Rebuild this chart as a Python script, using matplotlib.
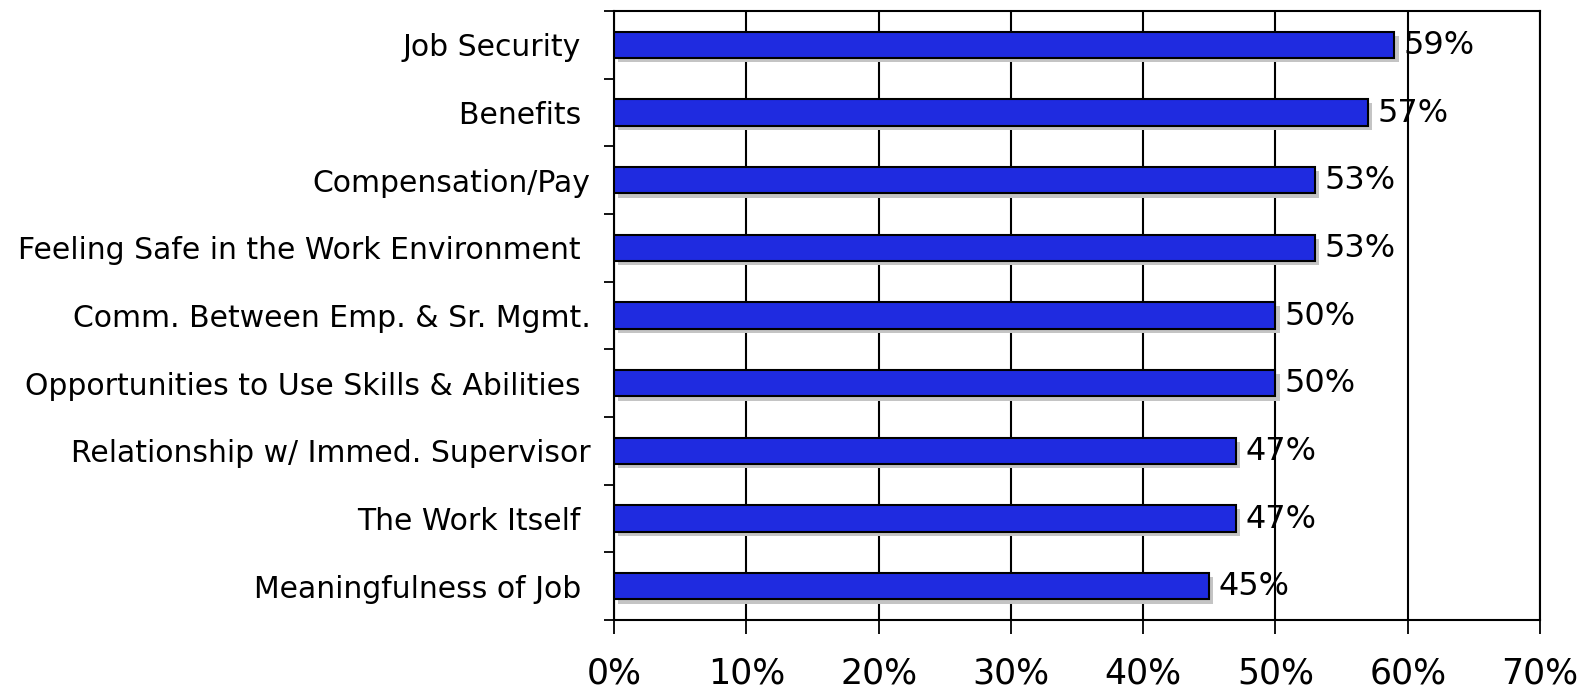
import matplotlib
matplotlib.use('Agg')
import matplotlib.pyplot as plt
import matplotlib.patheffects as pe
import numpy as np

categories = ['Job Security ', 'Benefits ', 'Compensation/Pay', 'Feeling Safe in the Work Environment ',
              'Comm. Between Emp. & Sr. Mgmt.', 'Opportunities to Use Skills & Abilities ',
              'Relationship w/ Immed. Supervisor', 'The Work Itself ', 'Meaningfulness of Job ']
values = [59, 57, 53, 53, 50, 50, 47, 47, 45]
xticks = [0, 10, 20, 30, 40, 50, 60, 70]

BAR_BLUE = '#1f2be0'
SHADOW = '#c4c4c4'

plt.rcParams['font.family'] = ['DejaVu Sans']
fig = plt.figure(figsize=(15.89, 6.90), dpi=100)
W, H = 1589, 690
ax = fig.add_axes([614 / W, 1 - 620 / H, (1540 - 614) / W, (620 - 11) / H])

n = len(categories)
ypos = np.arange(n)
shadow = [pe.SimplePatchShadow(offset=(3, -3), shadow_rgbFace=SHADOW, alpha=1.0), pe.Normal()]
bars = ax.barh(ypos, values, height=0.39, color=BAR_BLUE, edgecolor='black', linewidth=1.5,
               zorder=3, path_effects=shadow)

for y, v in zip(ypos, values):
    ax.text(v + 0.7, y + 0.01, f'{v}%', va='center', ha='left', fontsize=23, zorder=5)

ax.set_xlim(0, 70)
ax.set_ylim(n - 0.5, -0.5)
ax.set_xticks(xticks)
ax.set_xticklabels([f'{t}%' for t in xticks], fontsize=25)
ax.set_yticks(ypos)
ax.set_yticklabels(categories, fontsize=21.5)
ax.tick_params(axis='y', length=0, pad=17)
ax.set_yticks(np.arange(-0.5, n, 1.0), minor=True)
ax.tick_params(axis='y', which='minor', length=7, width=1.3, direction='out')
ax.tick_params(axis='x', length=10, width=1.3, direction='out', pad=16)

ax.xaxis.grid(True, color='black', linewidth=1.5, zorder=0)
ax.set_axisbelow(True)
for s in ax.spines.values():
    s.set_linewidth(1.5)

fig.savefig('out.png', dpi=100)
